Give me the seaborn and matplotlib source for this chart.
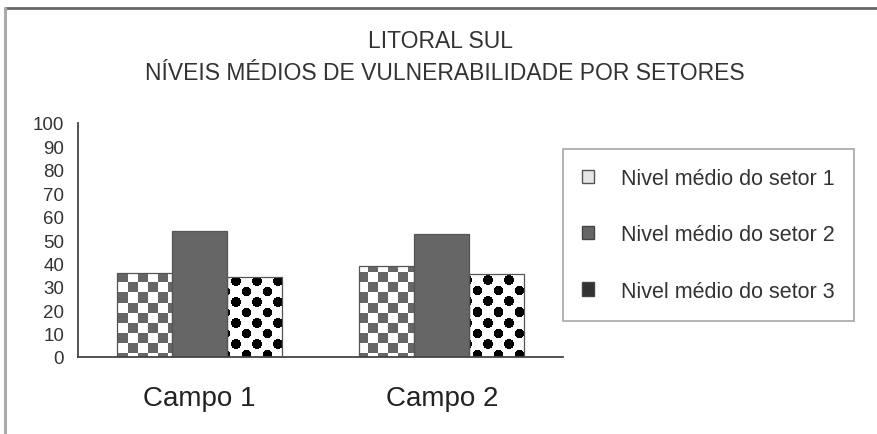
import numpy as np
import pandas as pd
import seaborn as sns
import matplotlib.pyplot as plt
from matplotlib.patches import Patch
from matplotlib.lines import Line2D

# dados
campos = ["Campo 1", "Campo 2"]
setores = ["Nivel médio do setor 1", "Nivel médio do setor 2", "Nivel médio do setor 3"]
setor1 = [36, 39]
setor2 = [54, 52.5]
setor3 = [34, 35.5]
yticks = list(range(0, 101, 10))

titulo1 = "LITORAL SUL"
titulo2 = "NÍVEIS MÉDIOS DE VULNERABILIDADE POR SETORES"

data = pd.DataFrame({
    "campo": campos * 3,
    "setor": [setores[0]] * 2 + [setores[1]] * 2 + [setores[2]] * 2,
    "valor": setor1 + setor2 + setor3,
})

sns.set_theme(style="white")
plt.rcParams["font.family"] = ["Liberation Sans", "DejaVu Sans"]

fig = plt.figure(figsize=(8.78, 4.35), dpi=100)
ax = fig.add_axes([78 / 878, 1 - 358 / 435, (563 - 78) / 878, (358 - 124) / 435])

sns.barplot(data=data, x="campo", y="valor", hue="setor", hue_order=setores,
            palette=["white", "#666666", "white"], width=0.68,
            edgecolor="#555555", linewidth=0.9, legend=False, ax=ax)

# texturas (xadrez e bolinhas) em pixels do eixo
H, W = 234, 485
yy, xx = np.mgrid[0:H, 0:W]
xadrez = ((np.floor(xx / 10.0) + np.floor(yy / 10.0)) % 2).astype(float)
xadrez_img = np.where(xadrez == 1, 0.40, 1.0)

row = np.round(yy / 10.5)
offs = (row % 2) * 10.5
cx = np.round((xx - offs) / 21.0) * 21.0 + offs
cy = row * 10.5
dist = np.sqrt((xx - cx) ** 2 + (yy - cy) ** 2)
bolas_img = np.where(dist < 5.0, 0.0, 1.0)

for i, img in [(0, xadrez_img), (2, bolas_img)]:
    for bar in ax.containers[i]:
        bar.set_facecolor("none")
        im = ax.imshow(img, cmap="gray", vmin=0, vmax=1, extent=(-0.5, 1.5, 0, 100),
                       aspect="auto", interpolation="nearest", zorder=0.5)
        im.set_clip_path(bar)

ax.set_xlim(-0.5, 1.5)
ax.set_ylim(0, 100)
ax.set_yticks(yticks)
ax.set_xticks([-0.5, 0.5, 1.5])
ax.set_xticklabels([])
ax.set_xticks([0, 1], minor=True)
ax.set_xticklabels(campos, minor=True, fontsize=20, color="#222222")
ax.tick_params(axis="x", which="major", direction="out", length=6, width=1, color="#444444")
ax.tick_params(axis="x", which="minor", length=0, pad=20)
ax.tick_params(axis="y", direction="out", length=5, width=1, color="#444444",
               labelsize=13.5, labelcolor="#333333", pad=5)
ax.set_xlabel("")
ax.set_ylabel("")
sns.despine(ax=ax)
for s in ["left", "bottom"]:
    ax.spines[s].set_color("#444444")
    ax.spines[s].set_linewidth(1.3)
ax.spines["left"].set_bounds(0, 100)

fig.text(441 / 878, 1 - 41 / 435, titulo1, ha="center", va="center", fontsize=16.5, color="#333333")
fig.text(445 / 878, 1 - 73 / 435, titulo2, ha="center", va="center", fontsize=16.5, color="#333333")

handles = [Patch(facecolor="#e6e6e6", edgecolor="#555555"),
           Patch(facecolor="#666666", edgecolor="#444444"),
           Patch(facecolor="#333333", edgecolor="#444444")]
leg = fig.legend(handles, setores, loc="upper left",
                 bbox_to_anchor=(563 / 878, 1 - 150 / 435),
                 fontsize=15.5, frameon=True, fancybox=False, edgecolor="#999999",
                 labelspacing=1.63, borderpad=0.9, handlelength=0.56, handleheight=0.56,
                 handletextpad=1.25, borderaxespad=0)
for t in leg.get_texts():
    t.set_color("#333333")
leg.get_frame().set_linewidth(1.3)

# moldura externa
fig.add_artist(Line2D([5 / 878, 1], [1 - 9 / 435, 1 - 9 / 435], color="#666666", lw=2))
fig.add_artist(Line2D([5 / 878, 5 / 878], [0, 1 - 9 / 435], color="#aaaaaa", lw=2.2))

fig.savefig("out.png", dpi=100)
